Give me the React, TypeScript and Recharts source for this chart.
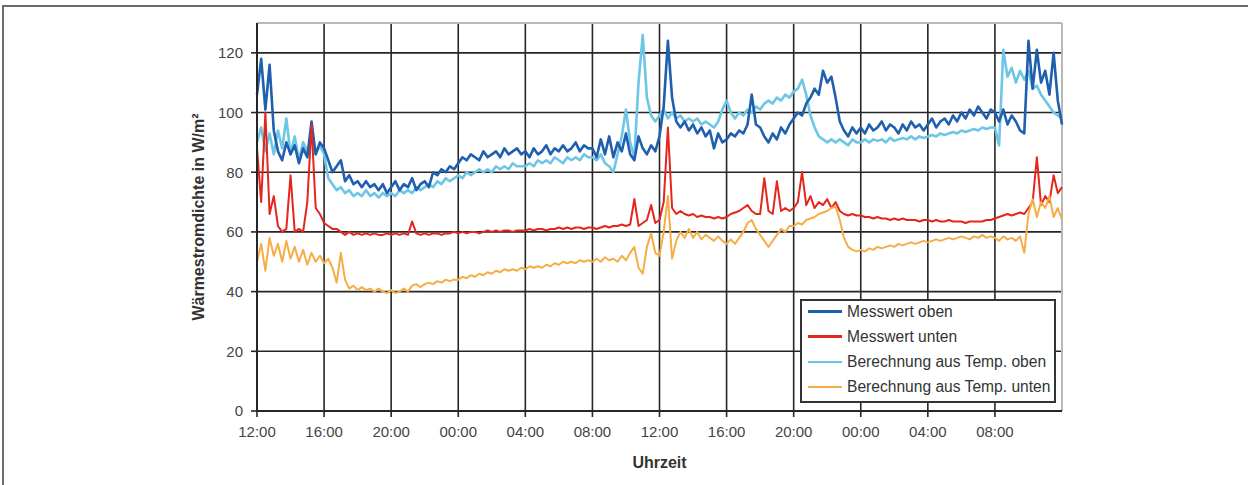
import { LineChart, Line, XAxis, YAxis, CartesianGrid, ReferenceLine } from "recharts";

// one sample every 15 minutes, starting 12:00 on day 1 (t = 0 h) up to 12:00 on day 3 (t = 48 h)
const STEP_HOURS = 0.25;

const messwertOben = [
  106, 118, 101, 116, 94, 87, 84, 90, 86, 89, 83, 88, 85, 97, 86, 90,
  88, 84, 80, 82, 84, 77, 79, 76, 77, 75, 77, 75, 76, 74, 76, 73,
  75, 77, 74, 76, 75, 78, 74, 76, 77, 75, 80, 79, 81, 80, 82, 81,
  83, 85, 84, 86, 85, 84, 87, 85, 86, 87, 85, 88, 86, 87, 88, 86,
  87, 85, 88, 86, 87, 89, 86, 88, 87, 89, 87, 88, 90, 87, 89, 88,
  88, 85, 91, 86, 92, 85, 90, 87, 93, 86, 84, 92, 88, 86, 89, 87,
  92, 102, 124, 105, 97, 95, 97, 94, 96, 93, 95, 92, 94, 88, 93, 90,
  91, 93, 92, 94, 93, 96, 106, 96, 95, 92, 90, 93, 91, 95, 93, 96,
  98, 100, 99, 103, 105, 108, 106, 114, 110, 112, 105, 97, 94, 92, 95, 93,
  95, 93, 96, 94, 95, 97, 94, 96, 95, 93, 96, 94, 97, 95, 96, 94,
  96, 98, 95, 97, 98, 96, 99, 97, 100, 98, 101, 99, 102, 100, 98, 101,
  100, 97, 101, 96, 99, 97, 94, 93, 124, 108, 121, 110, 114, 106, 120, 104,
  96,
];

const messwertUnten = [
  88, 70, 100, 66, 72, 62, 60, 61, 79, 60, 61, 60, 70, 96, 68, 66,
  63, 62, 61, 61, 60, 59, 60, 59, 59.5, 59, 59.5, 59, 59.5, 59, 59, 59.5,
  59, 59.5, 59, 59.5, 59, 63.5, 59.5, 59, 59.5, 59, 59.5, 59.5, 59, 59.5, 59.5, 60,
  59.5, 60, 59.5, 60, 60, 59.5, 60, 60.5, 60, 60.5, 60, 60.5, 60.5, 60, 60.5, 60.5,
  60.5, 61, 60.5, 61, 61, 60.5, 61, 61, 61.5, 61, 61.5, 61, 61.5, 61.5, 61, 61.5,
  61.5, 61, 61.5, 62, 61.5, 62, 62, 62.5, 62, 62.5, 71, 62, 63, 64, 69, 63,
  64, 70, 95, 68, 66, 67, 66, 65.5, 66, 65, 65.5, 65, 65, 64.5, 65, 64.5,
  65, 66, 66.5, 67, 68, 69, 67, 66, 66, 78, 67, 66, 77, 67, 68, 67,
  68, 70, 80, 69, 72, 68, 70, 69, 71, 68, 70, 67, 66, 65.5, 66, 65.5,
  65.5, 65, 65, 64.5, 65, 64.5, 64.5, 64, 64.5, 64, 64.5, 64, 64, 64, 63.5, 64,
  64, 63.5, 64, 63.5, 63.5, 64, 63.5, 63.5, 63.5, 63, 63.5, 63.5, 63.5, 63.5, 64, 64,
  64.5, 65, 65.5, 66, 65.5, 66, 66.5, 66, 68, 70, 85, 69, 72, 70, 79, 73,
  75,
];

const berechnungOben = [
  90, 95, 87, 93, 86, 94, 88, 98, 86, 92, 84, 90, 87, 91, 86, 89,
  86, 78, 76, 74, 75, 73, 74, 72, 73, 72, 74, 72, 73, 71.5, 73, 72,
  73, 72, 74, 73, 74, 73, 75, 74, 75, 76, 75, 77, 76, 78, 77, 78,
  79, 78, 80, 79, 80, 81, 80, 81, 80, 82, 81, 82, 81, 83, 82, 82,
  82, 83, 82, 84, 83, 84, 83, 85, 84, 83, 85, 84, 85, 84, 86, 85,
  85, 84, 86, 83, 82, 80, 86, 92, 101, 90, 85, 110, 126, 105, 99, 97,
  99, 101, 98, 100, 98, 99, 97, 98, 97, 98, 96, 97, 96, 95, 97, 101,
  104, 100, 98, 100, 99, 101, 100, 102, 101, 103, 104, 103, 105, 104, 106, 105,
  107, 108, 111, 106, 99, 95, 92, 91, 90, 91, 90, 91, 90, 89, 91, 90,
  90, 91, 90, 91, 90.5, 91, 90, 91.5, 90.5, 91, 91.5, 91, 92, 91, 92, 91.5,
  92, 92.5, 92, 93, 92.5, 93, 93.5, 93, 94, 93.5, 94, 94.5, 94, 95, 94.5, 95,
  95, 89, 121, 112, 115, 110, 114, 111, 114, 108, 109, 106, 104, 102, 100, 99,
  98,
];

const berechnungUnten = [
  50, 56, 47, 58, 52, 56, 50, 57, 51, 55, 50, 54, 49, 53, 50, 52,
  49.5, 51, 48, 43, 53, 44, 41, 42, 40.5, 41.5, 40.5, 41, 40, 41, 40, 39.5,
  40.5, 39.5, 40, 41, 40, 42, 42.5, 41.5, 42.5, 43, 42.5, 43.5, 43, 44, 43.5, 44,
  44, 45, 44.5, 45.5, 45, 46, 45.5, 46.5, 46, 47, 46.5, 47.5, 47, 47.5, 47, 48,
  47.5, 48.5, 48, 48.5, 48, 49, 48.5, 49.5, 49, 50, 49.5, 50, 49.5, 50.5, 50, 50.5,
  50, 51, 50, 51.5, 50.5, 51, 50, 52, 50.5, 53, 55, 48, 46, 55, 59.5, 53,
  52, 60, 72, 51, 57, 60, 58, 61, 58, 60, 57.5, 59, 58, 57, 58.5, 57,
  56, 57.5, 56, 58, 60, 63, 64, 61, 59, 57, 55, 57, 59, 61, 60, 62,
  62, 63, 62.5, 64, 64.5, 65, 66, 66.5, 67, 68, 68.5, 64, 58, 55, 54, 53.5,
  54, 53.5, 54.5, 54, 55, 54.5, 55, 55.5, 55, 56, 55.5, 56, 56.5, 56, 56.5, 57,
  56.5, 57, 57.5, 57, 57.5, 58, 57.5, 58, 58.5, 58, 57.5, 58.5, 58, 59, 58, 58.5,
  58, 57, 58.5, 57.5, 58, 57, 58.5, 53, 66, 71, 65, 70, 68, 72, 65, 68,
  64,
];

const tickHours = [0, 4, 8, 12, 16, 20, 24, 28, 32, 36, 40, 44];
const tickLabels = ["12:00", "16:00", "20:00", "00:00", "04:00", "08:00", "12:00", "16:00", "20:00", "00:00", "04:00", "08:00"];
const yTicks = [0, 20, 40, 60, 80, 100, 120];

const FONT = '"Liberation Sans", Arial, Helvetica, sans-serif';
const GRID = "#262626";

// legend order = series order in the original
const series = [
  { key: "mo", name: "Messwert oben", color: "#1f5fb0", width: 2.6 },
  { key: "mu", name: "Messwert unten", color: "#e4261c", width: 2 },
  { key: "bo", name: "Berechnung aus Temp. oben", color: "#6ec6e6", width: 2.6 },
  { key: "bu", name: "Berechnung aus Temp. unten", color: "#f6ad45", width: 2 },
];
// painting order (last one on top)
const drawOrder = ["bo", "mo", "mu", "bu"];

const data = messwertOben.map((v, i) => ({
  t: i * STEP_HOURS,
  mo: v,
  mu: messwertUnten[i],
  bo: berechnungOben[i],
  bu: berechnungUnten[i],
}));

export default function App() {
  return (
    <div style={{ position: "absolute", left: 0, top: 0, width: 1248, height: 485, background: "#fff", fontFamily: FONT, overflow: "hidden" }}>
      {/* page frame */}
      <div
        style={{
          position: "absolute", left: 2, top: 5, width: 1246, height: 480,
          borderTop: "2px solid #6b6b6b", borderLeft: "2px solid #6b6b6b", boxSizing: "border-box",
        }}
      />
      <div style={{ position: "absolute", left: 0, top: 0 }}>
        <LineChart width={1248} height={485} data={data} margin={{ top: 23, right: 186, bottom: 0, left: 0 }}>
          <CartesianGrid stroke={GRID} strokeWidth={1.6} />
          <XAxis
            dataKey="t"
            type="number"
            domain={[0, 48]}
            ticks={tickHours}
            tickFormatter={(v) => tickLabels[tickHours.indexOf(v)] ?? ""}
            height={74}
            tickSize={6}
            tickMargin={9}
            axisLine={{ stroke: GRID, strokeWidth: 2 }}
            tickLine={{ stroke: GRID, strokeWidth: 1.6 }}
            tick={{ fill: "#444", fontSize: 15 }}
            label={{ value: "Uhrzeit", position: "center", dy: 14, fontSize: 16, fontWeight: 700, fill: "#333" }}
          />
          <YAxis
            type="number"
            domain={[0, 130]}
            ticks={yTicks}
            width={257}
            tickSize={6}
            tickMargin={8}
            axisLine={{ stroke: GRID, strokeWidth: 2 }}
            tickLine={{ stroke: GRID, strokeWidth: 1.6 }}
            tick={{ fill: "#444", fontSize: 15 }}
            label={{ value: "Wärmestromdichte in W/m²", angle: -90, position: "center", dx: 70, fontSize: 16, fontWeight: 700, fill: "#333" }}
          />
          <ReferenceLine y={130} stroke="#b8b8b8" strokeWidth={2} />
          <ReferenceLine x={48} stroke="#b8b8b8" strokeWidth={2} />
          {drawOrder.map((k) => {
            const s = series.find((x) => x.key === k)!;
            return (
              <Line
                key={k}
                type="linear"
                dataKey={k}
                name={s.name}
                stroke={s.color}
                strokeWidth={s.width}
                strokeLinejoin="round"
                dot={false}
                activeDot={false}
                isAnimationActive={false}
              />
            );
          })}
        </LineChart>
      </div>
      {/* legend */}
      <div
        style={{
          position: "absolute", left: 800, top: 299, width: 256, height: 104,
          border: "2px solid #333", boxSizing: "border-box", background: "#fff",
        }}
      >
        {series.map((s, i) => (
          <div key={s.key} style={{ position: "absolute", left: 6, top: -2 + i * 25.2, height: 25, display: "flex", alignItems: "center" }}>
            <div style={{ width: 34, height: 2.5, background: s.color }} />
            <span style={{ marginLeft: 5, fontSize: 15.6, color: "#333", whiteSpace: "nowrap" }}>{s.name}</span>
          </div>
        ))}
      </div>
    </div>
  );
}
